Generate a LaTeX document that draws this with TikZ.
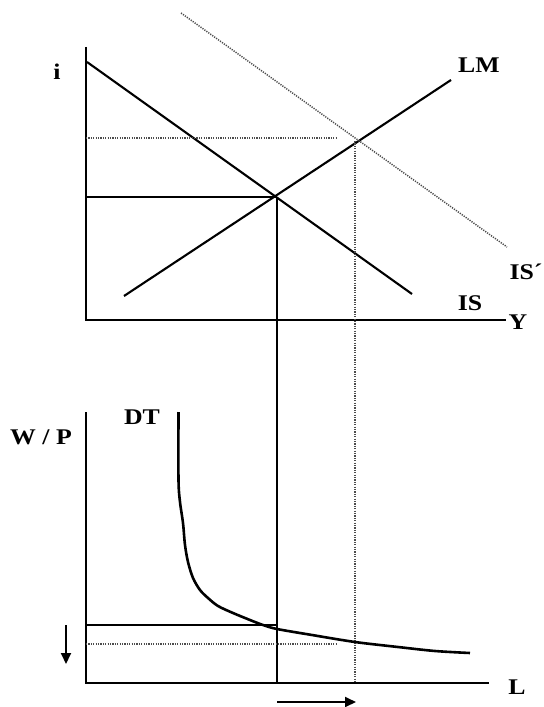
\documentclass[tikz,border=0pt]{standalone}
\usepackage{fontspec}
\setmainfont{Liberation Serif}
\usetikzlibrary{arrows.meta}
\begin{document}
\begin{tikzpicture}[x=1bp,y=-1bp,
 axis/.style={line width=2bp},
 curve/.style={line width=2.1bp, line join=round},
 dtcurve/.style={line width=2.6bp, line join=round},
 guide/.style={line width=1.7bp},
 dotguide/.style={line width=1.5bp, dash pattern=on 1.2bp off 1.2bp, black!70},
 lbl/.style={font=\fontsize{22.5}{22.5}\selectfont\bfseries, inner sep=0pt, xscale=1.15},
 arr/.style={line width=1.9bp, -{Triangle[length=11bp,width=10bp]}}]
\useasboundingbox (0,0) rectangle (544,707);
% top panel points
\coordinate (iTop) at (86,47);
\coordinate (O1) at (86,320);
\coordinate (YEnd) at (506,320);
\coordinate (IS1) at (87,62);
\coordinate (IS2) at (412,294);
\coordinate (LM1) at (124,296);
\coordinate (LM2) at (451,80);
\coordinate (ISp1) at (181,13);
\coordinate (ISp2) at (507,247);
\coordinate (E) at (277,197);
\coordinate (Ei) at (86,197);
\coordinate (Ep) at (355,141);
\coordinate (Epi) at (86,138);
\coordinate (EpiEnd) at (337,138);
% bottom panel points
\coordinate (wTop) at (86,412);
\coordinate (O2) at (86,683);
\coordinate (LEnd) at (489,683);
\coordinate (EL) at (277,683);
\coordinate (EpL) at (355,683);
\coordinate (W1a) at (86,625);
\coordinate (W1b) at (277,625);
\coordinate (W2a) at (86,644);
\coordinate (W2b) at (337,644);
\coordinate (DA1) at (66,625);
\coordinate (DA2) at (66,664);
\coordinate (RA1) at (277,702);
\coordinate (RA2) at (356,702);
% axes
\draw[axis] (iTop) -- (O1) -- (YEnd);
\draw[axis] (wTop) -- (O2) -- (LEnd);
% IS-LM
\draw[curve] (IS1) -- (IS2);
\draw[curve] (LM1) -- (LM2);
\draw[dotguide] (ISp1) -- (ISp2);
\draw[guide] (Ei) -- (E);
\draw[guide] (E) -- (EL);
\draw[dotguide] (Epi) -- (EpiEnd);
\draw[dotguide] (Ep) -- (EpL);
% labour demand
\draw[dtcurve] plot[smooth, tension=0.5] coordinates {(178.5,412) (178.5,480) (180,502) (183,523) (185,545) (188,562) (193,578) (200,590) (208,598) (218,606) (233,613) (250,620) (263,625) (277,629) (312,635) (355,642) (398,647) (435,651) (470,653)};
\draw[guide] (W1a) -- (W1b);
\draw[dotguide] (W2a) -- (W2b);
\draw[arr] (DA1) -- (DA2);
\draw[arr] (RA1) -- (RA2);
% labels
\node[lbl] (li) at (57,72) {i};
\node[lbl] (lLM) at (479,65) {LM};
\node[lbl] (lISp) at (526,272) {IS´};
\node[lbl] (lIS) at (470,303) {IS};
\node[lbl] (lY) at (518,322) {Y};
\node[lbl] (lWP) at (41,437) {W / P};
\node[lbl] (lDT) at (142,417) {DT};
\node[lbl] (lL) at (517,687) {L};
\end{tikzpicture}
\end{document}
